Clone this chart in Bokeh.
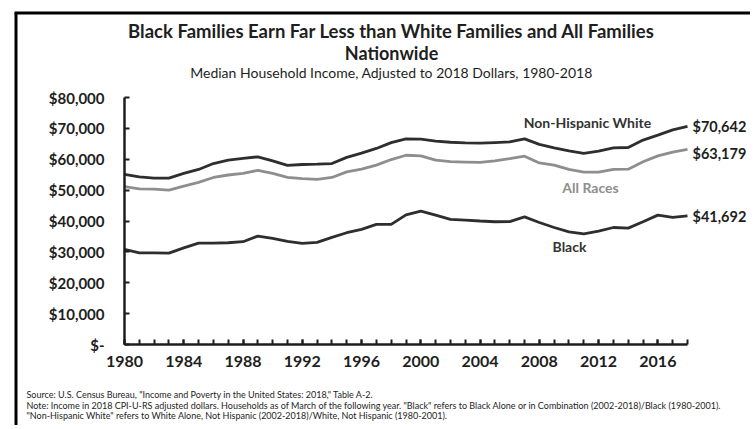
from bokeh.plotting import figure
from bokeh.models import Range1d, FixedTicker, Label
from bokeh.embed import file_html
from bokeh.resources import INLINE

# ---------------- data ----------------
years = list(range(1980, 2019))
white = [55100, 54300, 53900, 53900, 55400, 56700, 58600, 59700, 60250, 60800,
         59500, 58000, 58300, 58400, 58600, 60600, 62000, 63500, 65400, 66600,
         66500, 65900, 65500, 65300, 65200, 65400, 65600, 66600, 64800, 63700,
         62700, 61900, 62600, 63700, 63800, 66200, 67800, 69500, 70642]
all_races = [51100, 50400, 50300, 50000, 51300, 52500, 54100, 54900, 55400, 56400,
             55400, 54100, 53700, 53500, 54100, 55900, 56800, 58100, 59900, 61300,
             61100, 59700, 59200, 59100, 59000, 59500, 60200, 61000, 58800, 58100,
             56700, 55800, 55800, 56700, 56800, 59200, 61100, 62300, 63179]
black = [30800, 29700, 29700, 29600, 31300, 32850, 32850, 32950, 33300, 35100,
         34350, 33400, 32750, 33100, 34700, 36200, 37300, 38900, 38900, 42000,
         43200, 41900, 40500, 40300, 40000, 39750, 39800, 41350, 39500, 37900,
         36500, 35850, 36700, 37900, 37700, 39750, 41900, 41150, 41692]

y_ticks = [0, 10000, 20000, 30000, 40000, 50000, 60000, 70000, 80000]
y_tick_labels = ["$-", "$10,000", "$20,000", "$30,000", "$40,000",
                 "$50,000", "$60,000", "$70,000", "$80,000"]
x_label_years = [1980, 1984, 1988, 1992, 1996, 2000, 2004, 2008, 2012, 2016]

series_names = ["Non-Hispanic White", "All Races", "Black"]
end_labels = ["$70,642", "$63,179", "$41,692"]

title1 = "Black Families Earn Far Less than White Families and All Families"
title2 = "Nationwide"
subtitle = "Median Household Income, Adjusted to 2018 Dollars, 1980-2018"
notes = [
    'Source: U.S. Census Bureau, "Income and Poverty in the United States: 2018," Table A-2.',
    'Note: Income in 2018 CPI-U-RS adjusted dollars. Households as of March of the following year. "Black" refers to Black Alone or in Combination (2002-2018)/Black (1980-2001).',
    '"Non-Hispanic White" refers to White Alone, Not Hispanic (2002-2018)/White, Not Hispanic (1980-2001).',
]

# ---------------- layout ----------------
W, H = 750, 425
# pixel positions (canvas) of the axis box
PX_LEFT, PX_RIGHT, PX_TOP, PX_BOTTOM = 124, 687, 97, 344
X0, X1, Y0, Y1 = 1980, 2018, 0, 80000
sx = (X1 - X0) / (PX_RIGHT - PX_LEFT)
sy = (Y1 - Y0) / (PX_BOTTOM - PX_TOP)

def X(px):
    return X0 + (px - PX_LEFT) * sx

def Y(py):
    return Y0 + (PX_BOTTOM - py) * sy

DARK = "#2e2e2e"
GRAY = "#8e8e8e"
INK = "#1e1e1e"
FONT = "Lato"

p = figure(width=W, height=H, output_backend="svg", toolbar_location=None,
           x_range=Range1d(X(0), X(W)), y_range=Range1d(Y(H), Y(0)),
           min_border=0, min_border_left=0, min_border_right=0,
           min_border_top=0, min_border_bottom=0)
p.outline_line_color = None
p.xgrid.visible = False
p.ygrid.visible = False
p.background_fill_color = "white"
p.border_fill_color = "white"

# axes drawn at fixed data locations inside the frame
for ax in (p.xaxis[0], p.yaxis[0]):
    ax.axis_line_color = INK
    ax.axis_line_width = 2.5
    ax.major_tick_line_color = INK
    ax.major_tick_line_width = 2
    ax.major_tick_in = 5
    ax.major_tick_out = 0
    ax.major_label_text_font = FONT
    ax.major_label_text_font_style = "bold"
    ax.major_label_text_color = INK

p.xaxis.fixed_location = Y0
p.xaxis.bounds = (X0, X1)
p.xaxis.ticker = FixedTicker(ticks=x_label_years, minor_ticks=years)
p.xaxis.minor_tick_in = 5
p.xaxis.minor_tick_out = 0
p.xaxis.minor_tick_line_color = INK
p.xaxis.minor_tick_line_width = 2
p.xaxis.major_label_text_font_size = "16px"
p.xaxis.major_label_standoff = 11

p.yaxis.fixed_location = X0
p.yaxis.bounds = (Y0, Y1)
p.yaxis.ticker = FixedTicker(ticks=y_ticks, minor_ticks=[])
p.yaxis.major_label_overrides = {t: l for t, l in zip(y_ticks, y_tick_labels)}
p.yaxis.major_label_text_font_size = "15px"
p.yaxis.major_label_standoff = 20

# border (decoration): left and top edges of the chart box
p.segment(x0=[X(15.5), X(14)], y0=[Y(H + 10), Y(12.5)],
          x1=[X(15.5), X(W + 10)], y1=[Y(12.5), Y(12.5)],
          line_color="black", line_width=3)

# lines
p.line(years, white, line_color=DARK, line_width=2.8)
p.line(years, all_races, line_color=GRAY, line_width=2.8)
p.line(years, black, line_color=DARK, line_width=2.8)

def add_text(txt, px, py, size, style="bold", color=DARK, align="center"):
    p.add_layout(Label(x=X(px), y=Y(py), text=txt, text_font=FONT,
                       text_font_size=size, text_font_style=style, text_color=color,
                       text_align=align, text_baseline="middle"))

add_text(title1, 391, 30, "18.5px", color=INK)
add_text(title2, 391, 52, "18px", color=INK)
add_text(subtitle, 391, 72, "14px", style="normal", color=INK)

add_text(series_names[0], 587, 122, "14px", color="#333333")
add_text(series_names[1], 590, 187, "14px", color=GRAY)
add_text(series_names[2], 569, 246, "14px", color="#333333")

for txt, py in zip(end_labels, [126, 153, 216]):
    add_text(txt, 692, py, "14.5px", color=INK, align="left")

for txt, py in zip(notes, [394, 405, 415]):
    add_text(txt, 26, py, "9px", style="normal", color=INK, align="left")

open("out.html", "w").write(file_html(p, INLINE))
